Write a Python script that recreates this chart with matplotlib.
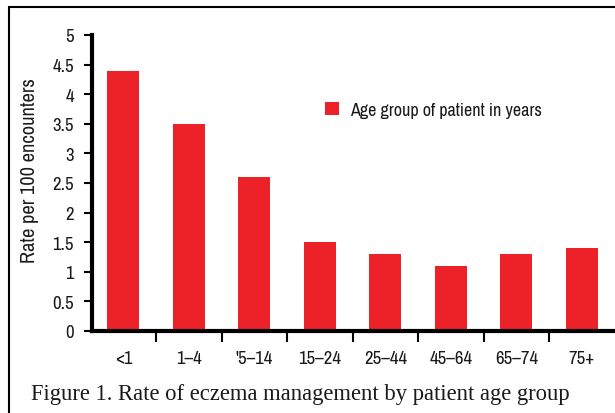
import matplotlib
matplotlib.use("Agg")
import matplotlib.pyplot as plt
from matplotlib.patches import Rectangle
import numpy as np

categories = ["<1", "1\u20134", "'5\u201314", "15\u201324", "25\u201344", "45\u201364", "65\u201374", "75+"]
rates = [4.4, 3.5, 2.6, 1.5, 1.3, 1.1, 1.3, 1.4]
yticks = [0, 0.5, 1, 1.5, 2, 2.5, 3, 3.5, 4, 4.5, 5]
ytick_labels = ["0", "0.5", "1", "1.5", "2", "2.5", "3", "3.5", "4", "4.5", "5"]

plt.rcParams['font.family'] = ['Archivo Narrow', 'DejaVu Sans']

W, H = 615, 414
fig = plt.figure(figsize=(W / 100, H / 100), dpi=100)
red = "#ED2228"
txt = "#1a1a1a"

ax = fig.add_axes([92 / W, (H - 332) / H, (W - 92) / W + 0.01, (332 - 36) / H])
x = np.arange(len(categories))
ax.bar(x, rates, width=0.49, color=red, label="Age group of patient in years", zorder=2)
ax.set_xlim(-0.48, 7.6)
ax.set_ylim(0, 5)
ax.set_yticks(yticks)
ax.set_yticklabels(ytick_labels, fontsize=13.5, color=txt)
ax.set_xticks(x)
ax.set_xticklabels(categories, fontsize=13.5, color=txt)
ax.tick_params(axis='x', which='major', length=0, pad=14)
ax.set_xticks(x[:-1] + 0.5, minor=True)
ax.tick_params(axis='x', which='minor', length=8, width=1.5, direction='out')
ax.tick_params(axis='y', length=6, width=1.5, pad=7)
for s in ['top', 'right']:
    ax.spines[s].set_visible(False)
ax.spines['left'].set_linewidth(3)
ax.spines['bottom'].set_linewidth(3)
ax.set_ylabel("Rate per 100 encounters", fontsize=14.7, color=txt)
ax.yaxis.set_label_coords(-0.100, 0.545)

ax.legend(loc='upper left', bbox_to_anchor=(0.41, 0.83), frameon=False, fontsize=13,
          handlelength=0.75, handleheight=0.75, handletextpad=0.6, labelcolor=txt)

fig.add_artist(Rectangle((9 / W, -0.1), 1.2, (H - 8) / H + 0.1, transform=fig.transFigure,
                         fill=False, edgecolor='black', linewidth=1.5))
fig.text(31 / W, (H - 400) / H, "Figure 1. Rate of eczema management by patient age group",
         fontsize=16.3, family=['Liberation Serif', 'DejaVu Serif'], ha='left', va='baseline', color=txt)

fig.savefig("out.png", dpi=100)
